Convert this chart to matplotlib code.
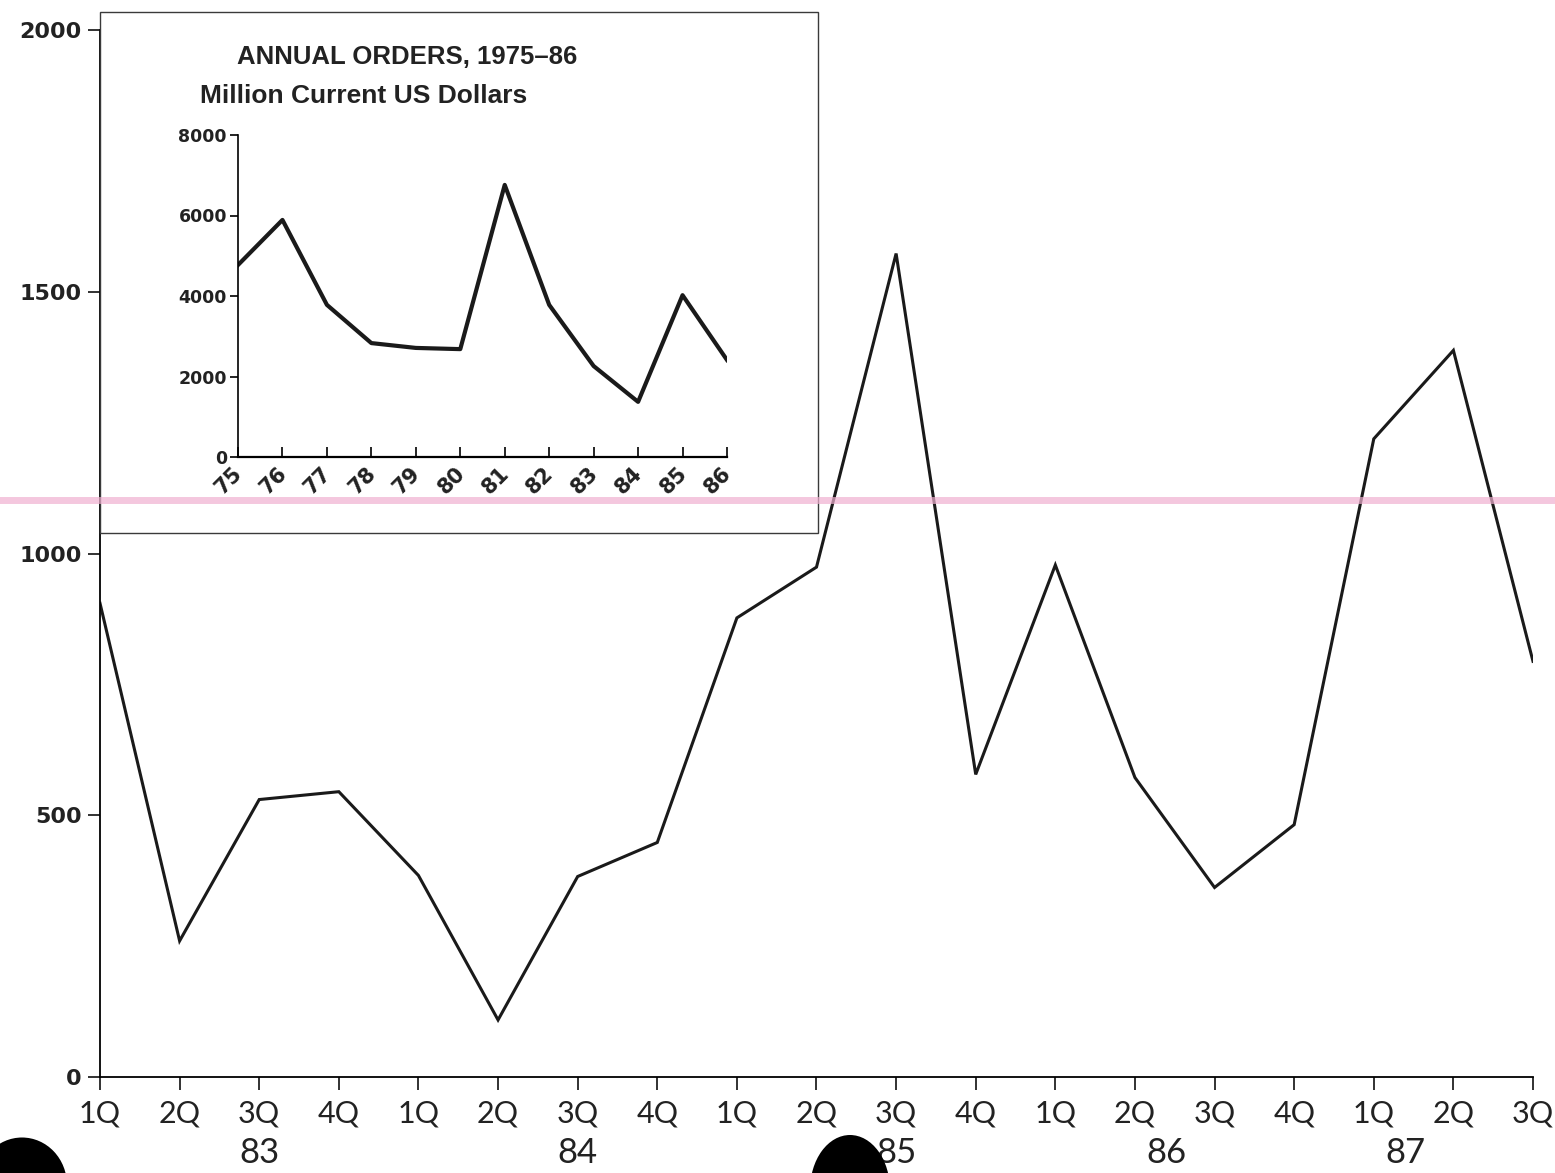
import numpy as np
import matplotlib
matplotlib.use("Agg")
import matplotlib.pyplot as plt
import matplotlib.transforms as mtransforms
from matplotlib.patches import Rectangle, Ellipse
from matplotlib.lines import Line2D

# Quarterly orders, 1Q83 - 3Q87 (million current US dollars)
quarters = ["1Q", "2Q", "3Q", "4Q", "1Q", "2Q", "3Q", "4Q", "1Q", "2Q",
            "3Q", "4Q", "1Q", "2Q", "3Q", "4Q", "1Q", "2Q", "3Q"]
quarterly_orders = [905, 260, 530, 545, 385, 109, 383, 448, 877, 974,
                    1573, 578, 978, 572, 362, 482, 1219, 1388, 794]
year_labels = ["83", "84", "85", "86", "87"]
year_label_pos = [2, 6, 10, 13.4, 16.4]

# Annual orders, 1975-86
years = ["75", "76", "77", "78", "79", "80", "81", "82", "83", "84", "85", "86"]
annual_orders = [4770, 5890, 3780, 2830, 2710, 2680, 6760, 3780, 2260, 1370, 4020, 2410]

W, H = 1555, 1173
fig = plt.figure(figsize=(W / 100, H / 100), dpi=100)
fig.patch.set_facecolor("white")

def fx(px):
    return px / W

def fy(py):
    return 1 - py / H

ink = "#222222"

# main quarterly chart
ax = fig.add_axes([fx(100), fy(1077), fx(1533) - fx(100), fy(30) - fy(1077)])
x = np.arange(len(quarterly_orders))
ax.plot(x, quarterly_orders, color="#1a1a1a", lw=2.2, solid_joinstyle="miter")
ax.set_xlim(0, len(quarterly_orders) - 1)
ax.set_ylim(0, 2000)
for s in ["top", "right"]:
    ax.spines[s].set_visible(False)
ax.spines["left"].set_linewidth(1.3)
ax.spines["bottom"].set_linewidth(1.3)
ax.set_yticks([0, 500, 1000, 1500, 2000])
ax.set_yticklabels(["0", "500", "1000", "1500", "2000"],
                   fontsize=16, fontweight="bold", family="DejaVu Sans", color=ink)
ax.set_xticks(x)
ax.set_xticklabels(quarters, fontsize=22, family="Lato", color=ink)
ax.tick_params(axis="both", direction="out", length=9, width=1.3, color=ink)
ax.tick_params(axis="y", pad=4)
ax.tick_params(axis="x", pad=7)

# year labels under the quarter ticks
for lab, pos in zip(year_labels, year_label_pos):
    xfig = fx(100) + pos / (len(quarterly_orders) - 1) * (fx(1533) - fx(100))
    fig.text(xfig, fy(1153), lab, ha="center", va="center",
             fontsize=25, family="Lato", color=ink, zorder=4)

# inset frame
frame = Rectangle((fx(100), fy(533)), fx(818) - fx(100), fy(12) - fy(533),
                  transform=fig.transFigure, facecolor="white", edgecolor="#3a3a3a",
                  lw=1.0, zorder=2)
fig.patches.append(frame)

# inset annual chart
ins = fig.add_axes([fx(238), fy(457), fx(727) - fx(238), fy(135) - fy(457)], zorder=3)
ins.patch.set_alpha(0)
ins.plot(np.arange(len(years)), annual_orders, color="#1a1a1a", lw=3.0)
ins.set_xlim(0, len(years) - 1)
ins.set_ylim(0, 8000)
for s in ["top", "right"]:
    ins.spines[s].set_visible(False)
ins.spines["left"].set_linewidth(1.2)
ins.spines["bottom"].set_linewidth(1.6)
ins.set_yticks([0, 2000, 4000, 6000, 8000])
ins.set_yticklabels(["0", "2000", "4000", "6000", "8000"], fontsize=12.5,
                    fontweight="bold", family="DejaVu Sans", color=ink)
ins.tick_params(axis="y", direction="out", length=6, width=1.2, pad=2)
ins.set_xticks(np.arange(len(years)))
ins.set_xticklabels(years, fontsize=15, fontweight="bold", family="DejaVu Sans",
                    rotation=45, ha="center", va="top", color=ink)
ins.tick_params(axis="x", direction="in", length=7, width=1.2, pad=3)
# nudge the slanted year labels a little to the left of their ticks
nudge = mtransforms.ScaledTranslation(-9 / 100, -2 / 100, fig.dpi_scale_trans)
for lbl in ins.get_xticklabels():
    lbl.set_transform(lbl.get_transform() + nudge)

fig.text(fx(407), fy(57), "ANNUAL ORDERS, 1975\u201386", ha="center", va="center",
         fontsize=18.5, fontweight="bold", family="Liberation Sans", color=ink, zorder=4)
fig.text(fx(200), fy(96), "Million Current US Dollars", ha="left", va="center",
         fontsize=19, fontweight="bold", family="Liberation Sans", color=ink, zorder=4)

# pink highlighter stroke and punch holes on the scanned page
fig.lines.append(Line2D([0, 1], [fy(500), fy(500)], transform=fig.transFigure,
                        color="#f0b0d0", lw=5, alpha=0.7, zorder=5))
fig.patches.append(Ellipse((fx(22), fy(1185)), fx(90), 95 / H, transform=fig.transFigure,
                           facecolor="black", edgecolor="none", zorder=6))
fig.patches.append(Ellipse((fx(850), fy(1190)), fx(80), 110 / H, transform=fig.transFigure,
                           facecolor="black", edgecolor="none", zorder=6))

fig.savefig("out.png", dpi=100, facecolor="white")
